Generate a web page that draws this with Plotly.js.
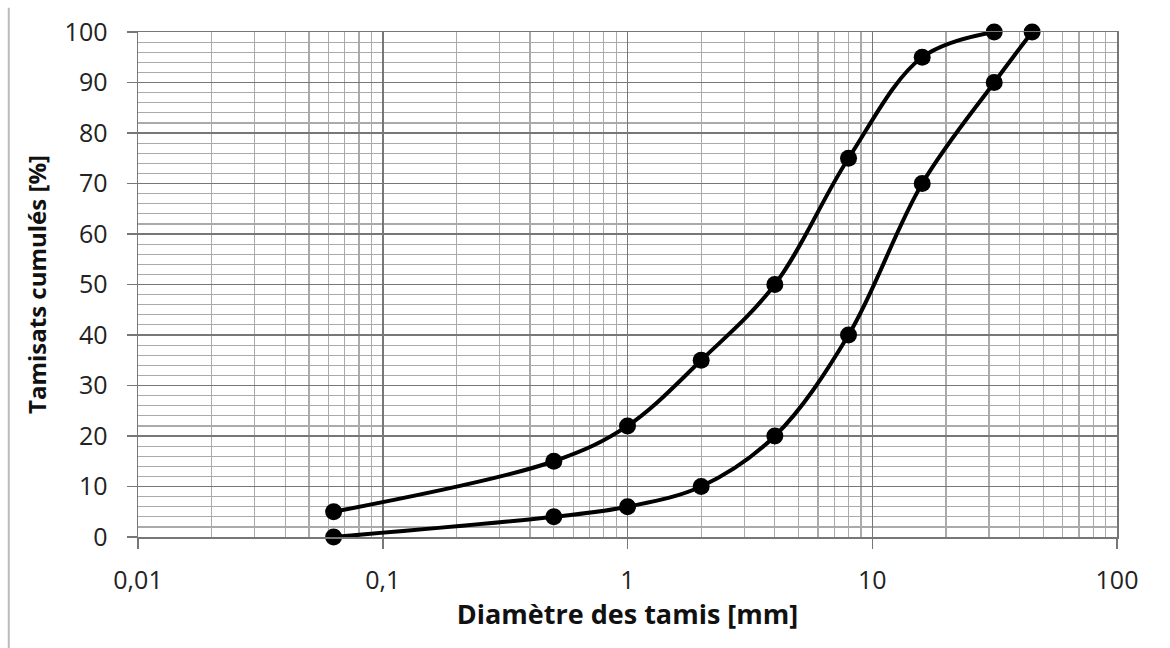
<!DOCTYPE html>
<html>
<head>
<meta charset="utf-8">
<script src="https://cdn.plot.ly/plotly-3.0.1.min.js"></script>
<style>html,body{margin:0;padding:0;background:#fff;}#chart{width:1170px;height:648px;}</style>
</head>
<body>
<div id="chart"></div>
<script>
// Upper curve
const sieveA = [0.063, 0.5, 1, 2, 4, 8, 16, 31.5];
const passA  = [5, 15, 22, 35, 50, 75, 95, 100];
// Lower curve
const sieveB = [0.063, 0.5, 1, 2, 4, 8, 16, 31.5, 45];
const passB  = [0, 4, 6, 10, 20, 40, 70, 90, 100];

const xTickVals = [0.01, 0.1, 1, 10, 100];
const xTickText = ['0,01', '0,1', '1', '10', '100'];
const yTickVals = [0, 10, 20, 30, 40, 50, 60, 70, 80, 90, 100];

const lineStyle = {color: '#000', width: 4, shape: 'spline', smoothing: 1};
const markerStyle = {color: '#000', size: 17};

const traces = [
  {x: sieveA, y: passA, mode: 'lines+markers', line: lineStyle, marker: markerStyle, cliponaxis: false, showlegend: false},
  {x: sieveB, y: passB, mode: 'lines+markers', line: lineStyle, marker: markerStyle, cliponaxis: false, showlegend: false}
];

const font = "'Open Sans', 'Noto Sans', sans-serif";
const layout = {
  width: 1170, height: 648,
  paper_bgcolor: '#fff', plot_bgcolor: '#fff',
  margin: {l: 138, r: 53, t: 32, b: 111},
  font: {family: font, size: 25, color: '#222'},
  xaxis: {
    type: 'log', range: [-2, 2],
    tickvals: xTickVals, ticktext: xTickText,
    ticks: 'outside', ticklen: 10, tickcolor: '#777', tickwidth: 1.5,
    ticklabelstandoff: 10,
    showgrid: true, gridcolor: '#777', gridwidth: 1.5,
    minor: {dtick: 'D1', showgrid: true, gridcolor: '#aaa', gridwidth: 1.2, ticks: ''},
    showline: true, linecolor: '#777', linewidth: 1.5, mirror: true,
    zeroline: false,
    tickfont: {size: 25, family: font, color: '#222'},
    title: {text: 'Diamètre des tamis [mm]', font: {size: 27, family: font, color: '#111', weight: 'bold'}, standoff: 0}
  },
  yaxis: {
    range: [0, 100], tickvals: yTickVals,
    ticks: 'outside', ticklen: 10, tickcolor: '#777', tickwidth: 1.5,
    ticklabelstandoff: 14,
    showgrid: true, gridcolor: '#777', gridwidth: 1.5,
    minor: {dtick: 2, showgrid: true, gridcolor: '#aaa', gridwidth: 1.2, ticks: ''},
    showline: true, linecolor: '#777', linewidth: 1.5, mirror: true,
    zeroline: false,
    tickfont: {size: 25, family: font, color: '#222'},
    title: {text: 'Tamisats cumulés [%]', font: {size: 24, family: font, color: '#111', weight: 'bold'}, standoff: 11}
  },
  shapes: [
    {type: 'line', xref: 'paper', yref: 'paper', x0: -0.132, x1: -0.132, y0: -0.22, y1: 1.048, line: {color: '#bbb', width: 2}}
  ]
};

Plotly.newPlot('chart', traces, layout, {displayModeBar: false, staticPlot: true});
</script>
</body>
</html>
